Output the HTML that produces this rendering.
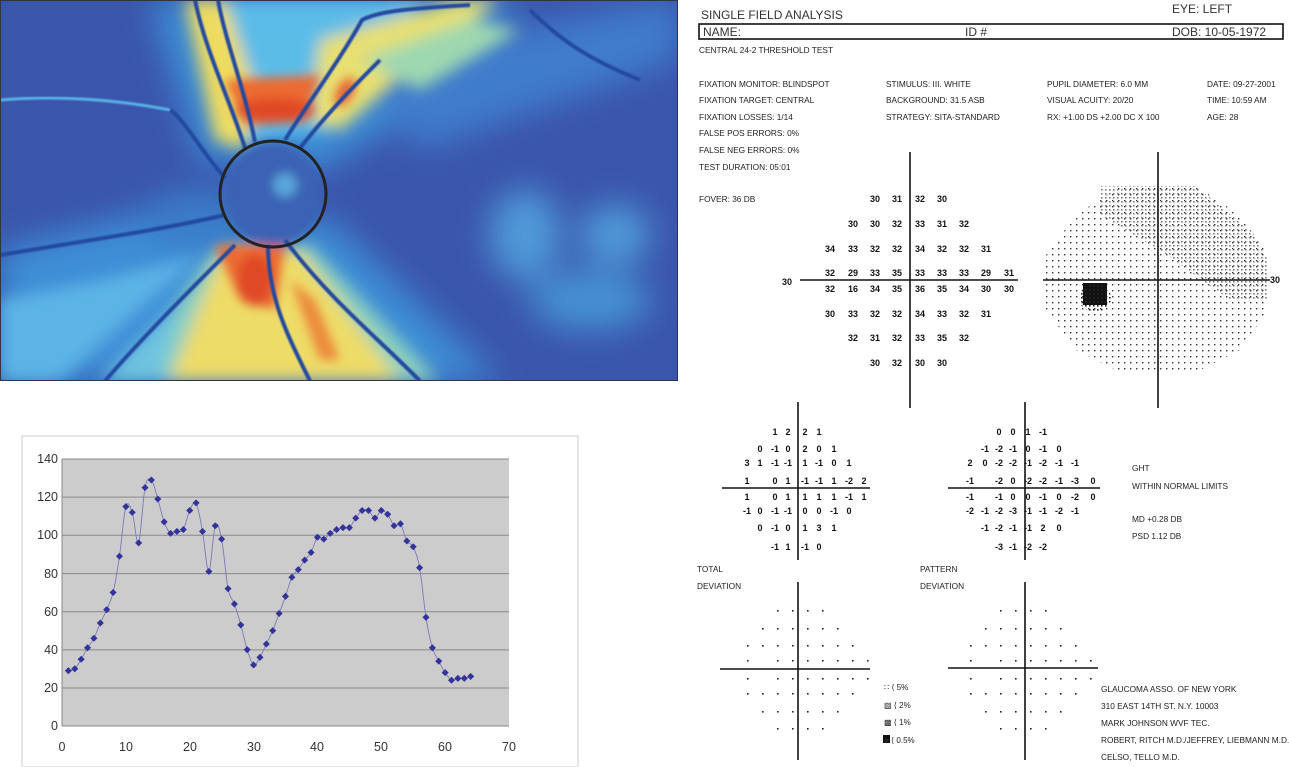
<!DOCTYPE html>
<html><head><meta charset="utf-8"><style>
html,body{margin:0;padding:0;background:#fff;}
svg{display:block;font-family:"Liberation Sans",sans-serif;}
.s{font-size:8.3px;fill:#222;}
.n{font-size:9px;font-weight:bold;fill:#111;text-anchor:middle;}
.t{font-size:12px;fill:#333;}
</style></head><body>
<svg width="1289" height="767" viewBox="0 0 1289 767" xmlns="http://www.w3.org/2000/svg">
<defs>
<filter id="b1" x="-50%" y="-50%" width="200%" height="200%"><feGaussianBlur stdDeviation="16"/></filter>
<filter id="b2" x="-50%" y="-50%" width="200%" height="200%"><feGaussianBlur stdDeviation="8"/></filter>
<filter id="b4" x="-50%" y="-50%" width="200%" height="200%"><feGaussianBlur stdDeviation="5"/></filter>
<filter id="b3"><feGaussianBlur stdDeviation="0.8"/></filter>
<clipPath id="hc"><rect x="1" y="1" width="676" height="379"/></clipPath>
<pattern id="dots" width="6" height="6" patternUnits="userSpaceOnUse"><rect x="2" y="2" width="1.4" height="1.4" fill="#333"/></pattern>
<pattern id="dots2" width="4" height="4" patternUnits="userSpaceOnUse"><rect x="1" y="1" width="1.6" height="1.6" fill="#222"/></pattern>
</defs>
<!-- heat map -->
<g clip-path="url(#hc)">
<rect x="0" y="0" width="678" height="381" fill="#3a56ac"/>
<g filter="url(#b1)">
<polygon points="0,250 200,200 220,260 120,381 0,381" fill="#3c8ed6"/>
<polygon points="150,0 520,0 420,110 320,170 200,160" fill="#3c8ed6"/>
<polygon points="60,381 220,220 330,220 500,381" fill="#3c8ed6"/>
<polygon points="350,60 678,0 678,60 420,150" fill="#3f7ccc"/>
<ellipse cx="525" cy="235" rx="35" ry="45" fill="#4f9ad8"/>
<ellipse cx="615" cy="235" rx="35" ry="30" fill="#4f9ad8"/>
<ellipse cx="590" cy="300" rx="60" ry="30" fill="#4590d2"/>
<ellipse cx="200" cy="220" rx="60" ry="30" fill="#3b7cc8"/>
</g>
<g filter="url(#b2)">
<polygon points="0,300 100,280 200,255 60,381 0,381" fill="#5cb4e6"/>
<polygon points="200,0 420,0 330,130 250,140" fill="#5cbce8"/>
<polygon points="185,0 225,0 255,90 245,150 215,140" fill="#eedc60"/>
<polygon points="320,40 460,0 500,0 420,60 340,130 310,120" fill="#e8e070"/>
<polygon points="360,60 470,20 520,30 420,90" fill="#9ed8b0"/>
<polygon points="120,381 215,250 310,245 440,381" fill="#8cd0c0"/>
<polygon points="170,381 220,255 300,250 400,381" fill="#eedc68"/>
<polygon points="100,381 180,300 160,381" fill="#70c4e0"/>
</g>
<g filter="url(#b4)">
<polygon points="225,80 320,75 305,122 245,125" fill="#ec6a30"/>
<ellipse cx="275" cy="110" rx="40" ry="12" fill="#e04a28"/>
<ellipse cx="345" cy="92" rx="8" ry="16" fill="#e86030" transform="rotate(30 345 92)"/>
<polygon points="215,245 285,245 275,310 240,300" fill="#ec6a30"/>
<ellipse cx="255" cy="280" rx="18" ry="26" fill="#e04a28"/>
<polygon points="290,280 315,300 340,360 320,360" fill="#ec8a3a"/>
<ellipse cx="273" cy="194" rx="48" ry="52" fill="#3a62b4"/>
<ellipse cx="285" cy="185" rx="12" ry="12" fill="#5aa6dc"/>
</g>
<g fill="none" stroke="#234aa0" stroke-width="4" filter="url(#b3)">
<path d="M245 148 C230 100 205 50 195 0"/>
<path d="M255 142 C245 90 225 40 218 0"/>
<path d="M285 140 C310 100 340 60 362 20 C380 10 420 8 470 5"/>
<path d="M300 148 C330 110 360 80 380 60"/>
<path d="M225 178 C200 150 185 120 170 110"/>
<path d="M225 215 C160 230 90 240 0 255"/>
<path d="M235 245 C190 290 140 340 105 381"/>
<path d="M268 245 C268 300 290 340 310 381"/>
<path d="M285 240 C330 300 380 340 420 381"/>
<path d="M530 10 C560 40 590 60 640 80"/>
</g>
<path d="M0 100 C60 95 120 100 170 110" fill="none" stroke="#58b0e6" stroke-width="3" filter="url(#b3)"/>
<circle cx="273" cy="194" r="53" fill="none" stroke="#222" stroke-width="3"/>
</g>
<rect x="0.5" y="0.5" width="677" height="380" fill="none" stroke="#334" stroke-width="1"/>

<!-- line chart -->
<rect x="22" y="436" width="556" height="331" fill="#fff" stroke="#ccc"/>
<rect x="62" y="459" width="447" height="267" fill="#cccccc"/>
<g stroke="#888" stroke-width="1">
<line x1="62" y1="459" x2="509" y2="459"/><line x1="62" y1="497.1" x2="509" y2="497.1"/>
<line x1="62" y1="535.3" x2="509" y2="535.3"/><line x1="62" y1="573.6" x2="509" y2="573.6"/>
<line x1="62" y1="611.7" x2="509" y2="611.7"/><line x1="62" y1="649.9" x2="509" y2="649.9"/>
<line x1="62" y1="688" x2="509" y2="688"/>
<line x1="62" y1="459" x2="62" y2="726"/><line x1="62" y1="726" x2="509" y2="726"/>
</g>
<g fill="#333" font-size="12.5" text-anchor="end">
<text x="58" y="463">140</text><text x="58" y="501">120</text><text x="58" y="539">100</text>
<text x="58" y="578">80</text><text x="58" y="616">60</text><text x="58" y="654">40</text>
<text x="58" y="692">20</text><text x="58" y="730">0</text>
</g>
<g fill="#333" font-size="12.5" text-anchor="middle">
<text x="62" y="751">0</text><text x="126" y="751">10</text><text x="190" y="751">20</text>
<text x="254" y="751">30</text><text x="317" y="751">40</text><text x="381" y="751">50</text>
<text x="445" y="751">60</text><text x="509" y="751">70</text>
</g>
<g id="series"></g>

<!-- header text -->
<text x="701" y="19" class="t" font-size="12.5">SINGLE FIELD ANALYSIS</text>
<text x="1172" y="13" class="t" font-size="12.5">EYE: LEFT</text>
<rect x="699" y="24" width="584" height="15" fill="none" stroke="#111" stroke-width="1.6"/>
<text x="703" y="36" class="t">NAME:</text>
<text x="965" y="36" class="t">ID #</text>
<text x="1172" y="36" class="t">DOB: 10-05-1972</text>
<text x="699" y="53" class="s">CENTRAL 24-2 THRESHOLD TEST</text>
<text x="699" y="87" class="s">FIXATION MONITOR: BLINDSPOT</text>
<text x="699" y="103" class="s">FIXATION TARGET: CENTRAL</text>
<text x="699" y="120" class="s">FIXATION LOSSES: 1/14</text>
<text x="699" y="136" class="s">FALSE POS ERRORS:  0%</text>
<text x="699" y="153" class="s">FALSE NEG ERRORS:  0%</text>
<text x="699" y="170" class="s">TEST DURATION:  05:01</text>
<text x="699" y="202" class="s">FOVER:  36 DB</text>
<text x="886" y="87" class="s">STIMULUS:  III. WHITE</text>
<text x="886" y="103" class="s">BACKGROUND:  31.5 ASB</text>
<text x="886" y="120" class="s">STRATEGY: SITA-STANDARD</text>
<text x="1047" y="87" class="s">PUPIL DIAMETER: 6.0 MM</text>
<text x="1047" y="103" class="s">VISUAL ACUITY: 20/20</text>
<text x="1047" y="120" class="s">RX: +1.00 DS    +2.00 DC X 100</text>
<text x="1207" y="87" class="s">DATE: 09-27-2001</text>
<text x="1207" y="103" class="s">TIME: 10:59 AM</text>
<text x="1207" y="120" class="s">AGE: 28</text>

<!-- threshold grid -->
<g stroke="#111" stroke-width="1.6">
<line x1="910" y1="152" x2="910" y2="408"/>
<line x1="800" y1="280" x2="1018" y2="280"/>
<line x1="1158" y1="152" x2="1158" y2="408"/>
<line x1="1043" y1="280" x2="1270" y2="280"/>
<line x1="798" y1="402" x2="798" y2="560"/>
<line x1="722" y1="488" x2="870" y2="488"/>
<line x1="1025" y1="402" x2="1025" y2="560"/>
<line x1="948" y1="488" x2="1100" y2="488"/>
<line x1="798" y1="582" x2="798" y2="760"/>
<line x1="720" y1="669" x2="870" y2="669"/>
<line x1="1025" y1="582" x2="1025" y2="760"/>
<line x1="948" y1="668" x2="1098" y2="668"/>
</g>
<text x="787" y="285" class="n">30</text>
<text x="1275" y="283" class="n" font-size="8">30</text>
<g id="grid1"></g>
<g id="dev1"></g>
<g id="dev2"></g>
<g id="prob"></g>

<!-- grayscale -->
<polygon points="1120,186 1196,186 1240,215 1268,255 1268,310 1240,350 1196,372 1120,372 1076,350 1046,310 1046,255 1076,215" fill="url(#dots)"/>
<polygon points="1100,186 1196,186 1255,235 1268,260 1268,300 1230,300 1160,250 1100,215" fill="url(#dots2)" opacity="0.6"/>
<rect x="1083" y="283" width="24" height="22" fill="#111"/>
<ellipse cx="1095" cy="298" rx="16" ry="14" fill="url(#dots2)"/>

<text x="1132" y="471" class="s">GHT</text>
<text x="1132" y="489" class="s">WITHIN NORMAL LIMITS</text>
<text x="1132" y="522" class="s">MD      +0.28  DB</text>
<text x="1132" y="539" class="s">PSD    1.12  DB</text>
<text x="697" y="572" class="s">TOTAL</text>
<text x="697" y="589" class="s">DEVIATION</text>
<text x="920" y="572" class="s">PATTERN</text>
<text x="920" y="589" class="s">DEVIATION</text>
<g class="s">
<text x="884" y="690" font-size="8">∷ ⟨  5%</text>
<text x="884" y="708" font-size="8">▨ ⟨  2%</text>
<text x="884" y="725" font-size="8">▩ ⟨  1%</text>
<text x="884" y="743" font-size="8">■ ⟨  0.5%</text>
</g>
<text x="1101" y="692" class="s">GLAUCOMA ASSO. OF NEW YORK</text>
<text x="1101" y="709" class="s">310 EAST 14TH ST. N.Y. 10003</text>
<text x="1101" y="726" class="s">MARK JOHNSON WVF TEC.</text>
<text x="1101" y="743" class="s">ROBERT, RITCH M.D./JEFFREY, LIEBMANN M.D.</text>
<text x="1101" y="760" class="s">CELSO, TELLO M.D.</text>
</svg>
<script>
(function(){
var NS="http://www.w3.org/2000/svg";
function el(p,t,a,txt){var e=document.createElementNS(NS,t);for(var k in a)e.setAttribute(k,a[k]);if(txt!=null)e.textContent=txt;document.getElementById(p).appendChild(e);return e;}
var d=[29,30,35,41,46,54,61,70,89,115,112,96,125,129,119,107,101,102,103,113,117,102,81,105,98,72,64,53,40,32,36,43,50,59,68,78,82,87,91,99,98,101,103,104,104,109,113,113,109,113,111,105,106,97,94,83,57,41,34,28,24,25,25,26];
var pts=d.map(function(v,i){return [62+(i+1)*447/70,726-v*267/140];});
var s="M"+pts[0][0]+" "+pts[0][1];
for(var i=0;i<pts.length-1;i++){var p0=pts[i-1]||pts[i],p1=pts[i],p2=pts[i+1],p3=pts[i+2]||p2;
s+=" C"+(p1[0]+(p2[0]-p0[0])/6)+" "+(p1[1]+(p2[1]-p0[1])/6)+" "+(p2[0]-(p3[0]-p1[0])/6)+" "+(p2[1]-(p3[1]-p1[1])/6)+" "+p2[0]+" "+p2[1];}
el("series","path",{d:s,fill:"none",stroke:"#7a7ab8","stroke-width":"0.9"});
pts.forEach(function(p){el("series","rect",{x:p[0]-2.5,y:p[1]-2.5,width:5,height:5,fill:"#333399",transform:"rotate(45 "+p[0]+" "+p[1]+")"});});
function grid(id,xs,ys,rows){rows.forEach(function(r,ri){r.forEach(function(v,ci){if(v!==null&&v!=="")el(id,"text",{x:xs[ci],y:ys[ri]+3,"class":"n"},v);});});}
var _=null;
grid("grid1",[830,853,875,897,920,942,964,986,1009],[199,224,249,273,289,314,338,363],[
[_,_,"30","31","32","30"],[_,"30","30","32","33","31","32"],["34","33","32","32","34","32","32","31"],
["32","29","33","35","33","33","33","29","31"],["32","16","34","35","36","35","34","30","30"],
["30","33","32","32","34","33","32","31"],[_,"32","31","32","33","35","32"],[_,_,"30","32","30","30"]]);
grid("dev1",[747,760,775,788,805,819,834,849,864],[432,449,463,481,497,511,528,547],[
[_,_,"1","2","2","1"],[_,"0","-1","0","2","0","1"],["3","1","-1","-1","1","-1","0","1"],
["1",_,"0","1","-1","-1","1","-2","2"],["1",_,"0","1","1","1","1","-1","1"],
["-1","0","-1","-1","0","0","-1","0"],[_,"0","-1","0","1","3","1"],[_,_,"-1","1","-1","0"]]);
grid("dev2",[970,985,999,1013,1028,1043,1059,1075,1093],[432,449,463,481,497,511,528,547],[
[_,_,"0","0","1","-1"],[_,"-1","-2","-1","0","-1","0"],["2","0","-2","-2","-1","-2","-1","-1"],
["-1",_,"-2","0","-2","-2","-1","-3","0"],["-1",_,"-1","0","0","-1","0","-2","0"],
["-2","-1","-2","-3","-1","-1","-2","-1"],[_,"-1","-2","-1","-1","2","0"],[_,_,"-3","-1","-2","-2"]]);
var rowsP=[[2,5],[1,6],[0,7],[0,8],[0,8],[0,7],[1,6],[2,5]];
[[747,15],[970,15]].forEach(function(c){
var ys=[610,628,645,660,678,693,711,728];
rowsP.forEach(function(r,ri){for(var ci=r[0];ci<=r[1];ci++){if((ri==3||ri==4)&&ci==1)continue;el("prob","rect",{x:c[0]+ci*c[1],y:ys[ri],width:1.6,height:1.6,fill:"#222"});}});});
el("prob","rect",{x:883,y:735,width:7,height:8,fill:"#111"});
})();
</script>
</body></html>
